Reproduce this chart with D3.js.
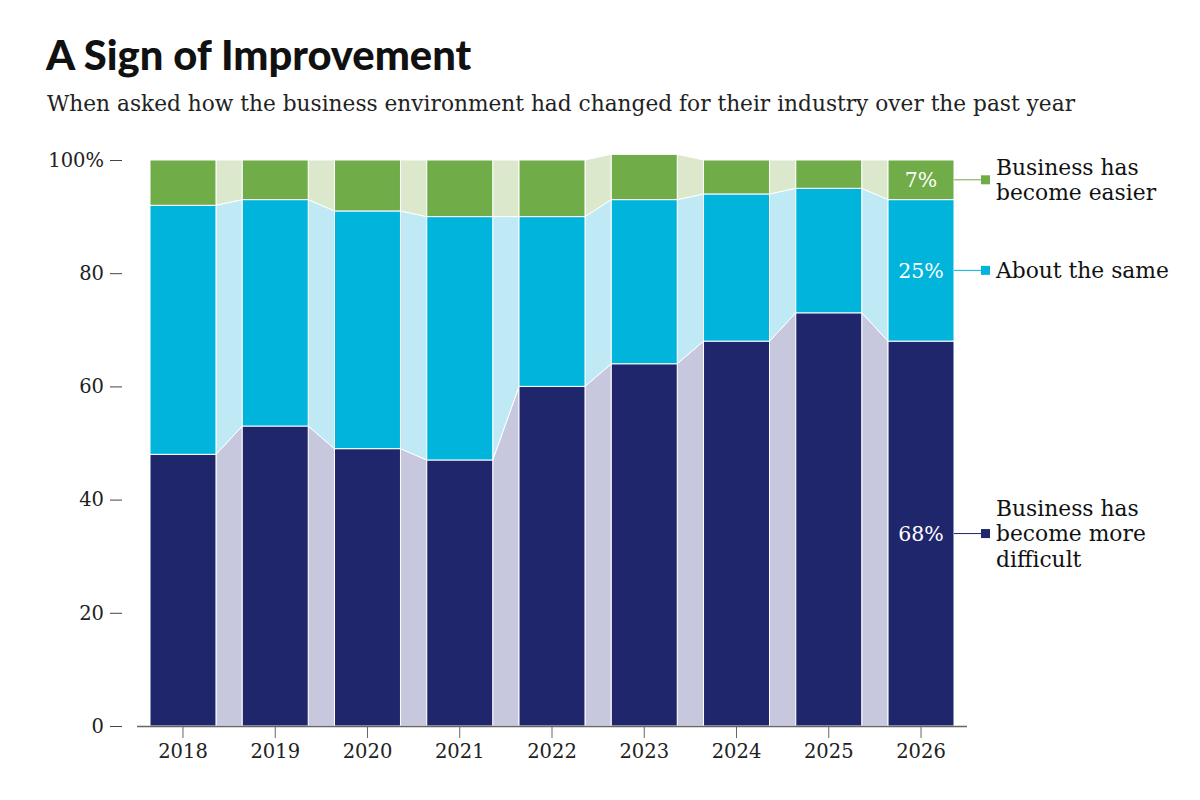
<!DOCTYPE html>
<html>
<head>
<meta charset="utf-8">
<script src="https://cdn.jsdelivr.net/npm/d3@7"></script>
<style>
  body { margin: 0; background: #fff; }
  svg { display: block; }
</style>
</head>
<body>
<svg id="chart" width="1200" height="800"></svg>
<script>
// ─── Data ─────────────────────────────────────────────────────────────────────
const years     = ['2018', '2019', '2020', '2021', '2022', '2023', '2024', '2025', '2026'];
const difficult = [48, 53, 49, 47, 60, 64, 68, 73, 68];
const same      = [44, 40, 42, 43, 30, 29, 26, 22, 25];
const easier    = [8, 7, 9, 10, 10, 8, 6, 5, 7];
const yTicks    = [0, 20, 40, 60, 80, 100];
const keys      = ['difficult', 'same', 'easier'];
const legendText = {
  easier:    ['Business has', 'become easier'],
  same:      ['About the same'],
  difficult: ['Business has', 'become more', 'difficult']
};

const COL   = { difficult: '#1f266b', same: '#00b4dc', easier: '#70ac47' };
const LIGHT = { difficult: '#c7c8dd', same: '#bee9f5', easier: '#dbe8cc' };

const SERIF = "'DejaVu Serif', serif";

const rows = years.map((y, i) => ({ year: y, difficult: difficult[i], same: same[i], easier: easier[i] }));
const series = d3.stack().keys(keys)(rows);

// ─── Scales ───────────────────────────────────────────────────────────────────
const x = d3.scaleBand().domain(years).range([150, 954]).paddingInner(0.285).paddingOuter(0);
const y = d3.scaleLinear().domain([0, 100]).range([726, 160]);

const svg = d3.select('#chart');

// ── Title ───────────────────────────────────────────────────────────────────
svg.append('text').attr('x', 46).attr('y', 70)
  .attr('font-family', "Lato, sans-serif").attr('font-weight', 900).attr('font-size', 41.7)
  .attr('fill', '#111').text('A Sign of Improvement');
svg.append('text').attr('x', 47).attr('y', 111)
  .attr('font-family', SERIF).attr('font-size', 21.7)
  .attr('fill', '#222')
  .text('When asked how the business environment had changed for their industry over the past year');

// ── Connectors between bars ──────────────────────────────────────────────────
const area = d3.area().x(d => d.x).y0(d => y(d.y0)).y1(d => y(d.y1));
series.forEach(s => {
  for (let i = 0; i < s.length - 1; i++) {
    const a = s[i], b = s[i + 1];
    const pts = [
      { x: x(years[i]) + x.bandwidth(), y0: a[0], y1: a[1] },
      { x: x(years[i + 1]), y0: b[0], y1: b[1] }
    ];
    svg.append('path').attr('d', area(pts))
      .attr('fill', LIGHT[s.key]).attr('stroke', '#fff').attr('stroke-width', 1);
  }
});

// ── Bars ────────────────────────────────────────────────────────────────────
svg.append('g').selectAll('g').data(series).join('g')
  .attr('fill', d => COL[d.key])
  .selectAll('rect').data(d => d).join('rect')
  .attr('x', d => x(d.data.year)).attr('width', x.bandwidth())
  .attr('y', d => y(d[1])).attr('height', d => y(d[0]) - y(d[1]))
  .attr('stroke', '#fff').attr('stroke-width', 1);

// ── Axes ────────────────────────────────────────────────────────────────────
const xAxis = svg.append('g').attr('transform', 'translate(0,726)')
  .call(d3.axisBottom(x).tickSize(12).tickPadding(6).tickSizeOuter(0));
xAxis.select('.domain').attr('d', 'M137,0.5H967').attr('stroke', '#666').attr('stroke-width', 1.5);
xAxis.selectAll('.tick line').attr('stroke', '#666');
xAxis.selectAll('.tick text').attr('font-family', SERIF).attr('font-size', 19.5).attr('fill', '#222');

const yAxis = svg.append('g').attr('transform', 'translate(122,0)')
  .call(d3.axisLeft(y).tickValues(yTicks).tickSize(12).tickPadding(6)
    .tickFormat(d => d === 100 ? '100%' : d));
yAxis.select('.domain').remove();
yAxis.selectAll('.tick line').attr('stroke', '#444');
yAxis.selectAll('.tick text').attr('font-family', SERIF).attr('font-size', 19.5).attr('fill', '#222');

// ── Last-bar labels + legend ─────────────────────────────────────────────────
const last = years.length - 1;
const xl = x(years[last]);
series.forEach(s => {
  const d = s[last];
  const cy = y((d[0] + d[1]) / 2);
  svg.append('text').attr('x', xl + x.bandwidth() / 2).attr('y', cy).attr('dy', '0.36em')
    .attr('text-anchor', 'middle').attr('font-family', SERIF).attr('font-size', 20.5)
    .attr('fill', '#fff').text((d[1] - d[0]) + '%');
  svg.append('line').attr('x1', xl + x.bandwidth()).attr('x2', 982).attr('y1', cy).attr('y2', cy)
    .attr('stroke', COL[s.key]).attr('stroke-width', 1);
  svg.append('rect').attr('x', 981).attr('y', cy - 4.5).attr('width', 9).attr('height', 9)
    .attr('fill', COL[s.key]);
  const lines = legendText[s.key];
  const t = svg.append('text').attr('x', 996).attr('font-family', SERIF).attr('font-size', 21.8).attr('fill', '#111');
  const lh = 25.5;
  const top = cy - (lines.length - 1) * lh / 2;
  lines.forEach((ln, j) => {
    t.append('tspan').attr('x', 996).attr('y', top + j * lh).attr('dy', '0.36em').text(ln);
  });
});
</script>
</body>
</html>
